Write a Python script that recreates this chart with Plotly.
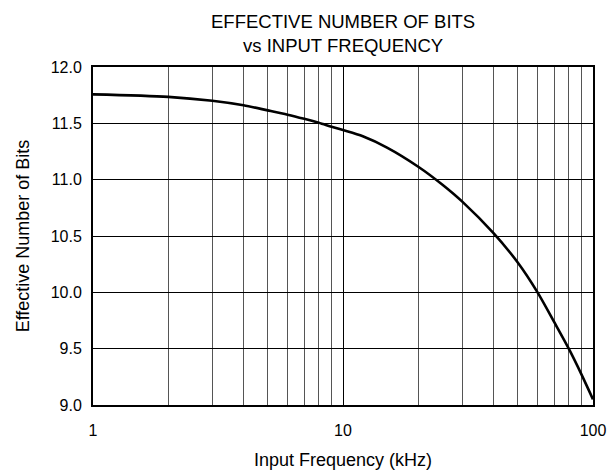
import plotly.graph_objects as go

freq_khz = [1, 2, 3, 4, 5, 6, 7, 8, 9, 10, 12, 15, 20, 25, 30, 40, 50, 60, 70, 80, 90, 100]
enob = [11.757, 11.735, 11.70, 11.66, 11.615, 11.577, 11.54, 11.505, 11.47, 11.44,
        11.385, 11.285, 11.115, 10.955, 10.805, 10.525, 10.265, 10.00, 9.735, 9.50, 9.27, 9.05]

x_major = [1, 10, 100]
x_major_labels = ["1", "10", "100"]
x_minor = [2, 3, 4, 5, 6, 7, 8, 9, 20, 30, 40, 50, 60, 70, 80, 90]
y_ticks = [9.0, 9.5, 10.0, 10.5, 11.0, 11.5, 12.0]
y_labels = ["9.0", "9.5", "10.0", "10.5", "11.0", "11.5", "12.0"]

FONT = "Liberation Sans, Arial, sans-serif"

fig = go.Figure()
fig.add_trace(go.Scatter(
    x=freq_khz, y=enob, mode="lines",
    line=dict(color="black", width=2.6, shape="spline", smoothing=0.8),
    showlegend=False, hoverinfo="skip",
))

fig.update_layout(
    width=608, height=470,
    margin=dict(l=93, r=15, t=67, b=65),
    paper_bgcolor="white", plot_bgcolor="white",
    font=dict(family=FONT, size=16, color="black"),
    annotations=[dict(
        text="EFFECTIVE NUMBER OF BITS<br>vs INPUT FREQUENCY",
        xref="paper", yref="paper", x=0.5, y=1, yshift=9,
        xanchor="center", yanchor="bottom", showarrow=False,
        font=dict(family=FONT, size=18.5, color="black"),
    )],
)

fig.update_xaxes(
    type="log", range=[0, 2], automargin=False,
    tickmode="array", tickvals=x_major, ticktext=x_major_labels,
    showgrid=True, gridcolor="black", gridwidth=1,
    showline=True, linecolor="black", linewidth=2, mirror=True,
    ticks="", ticklabelstandoff=10,
    minor=dict(tickvals=x_minor, showgrid=True, gridcolor="#555555", gridwidth=1, ticks=""),
    title=dict(text="Input Frequency (kHz)", font=dict(family=FONT, size=18), standoff=15),
    zeroline=False,
)
fig.update_yaxes(
    range=[9.0, 12.0], automargin=False,
    tickmode="array", tickvals=y_ticks, ticktext=y_labels,
    showgrid=True, gridcolor="black", gridwidth=1,
    showline=True, linecolor="black", linewidth=2, mirror=True,
    ticks="", ticklabelstandoff=6,
    title=dict(text="Effective Number of Bits", font=dict(family=FONT, size=18), standoff=16),
    zeroline=False,
)

fig.write_html(
    "out.html",
    config={"displayModeBar": False, "staticPlot": True},
    post_script="document.documentElement.style.margin='0';document.body.style.margin='0';document.body.style.padding='0';",
)
